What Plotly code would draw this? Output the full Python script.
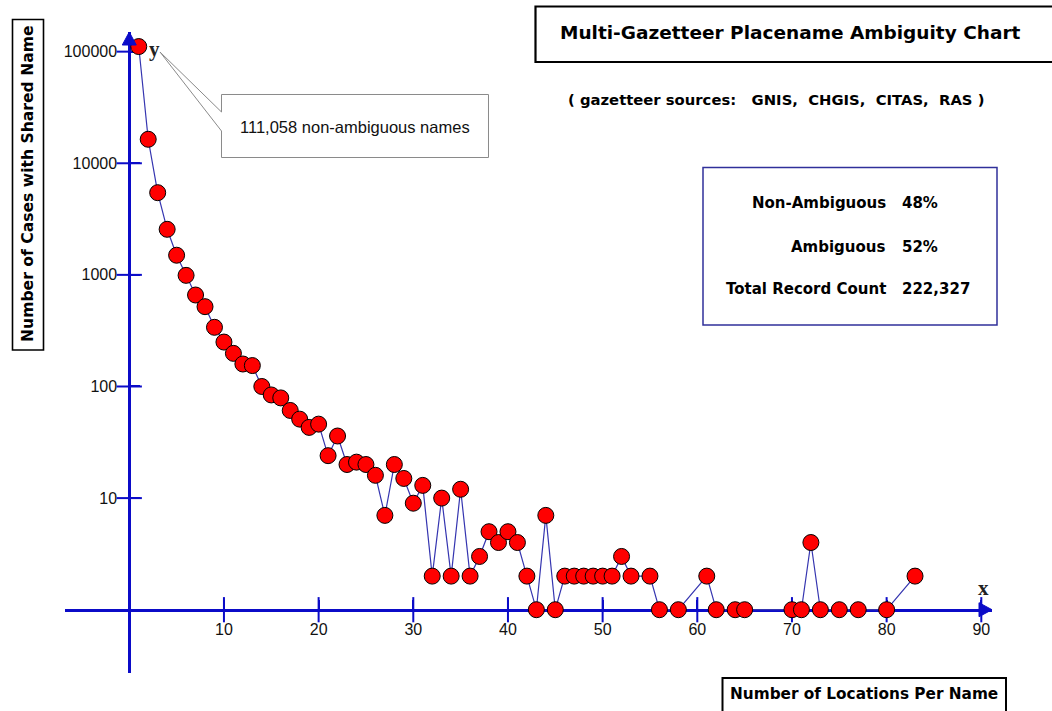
import plotly.graph_objects as go

# ---------------- data ----------------
locations_per_name = [1, 2, 3, 4, 5, 6, 7, 8, 9, 10,
                      11, 12, 13, 14, 15, 16, 17, 18, 19, 20,
                      21, 22, 23, 24, 25, 26, 27, 28, 29, 30,
                      31, 32, 33, 34, 35, 36, 37, 38, 39, 40,
                      41, 42, 43, 44, 45, 46, 47, 48, 49, 50,
                      51, 52, 53, 55, 56, 58, 61, 62, 64, 65,
                      70, 71, 72, 73, 75, 77, 80, 83]
cases_with_shared_name = [111058, 16400, 5450, 2560, 1500, 990, 660, 519, 339, 250,
                          198, 159, 154, 100, 84, 79, 61, 51, 43, 46,
                          24, 36, 20, 21, 20, 16, 7, 20, 15, 9,
                          13, 2, 10, 2, 12, 2, 3, 5, 4, 5,
                          4, 2, 1, 7, 1, 2, 2, 2, 2, 2,
                          2, 3, 2, 2, 1, 1, 2, 1, 1, 1,
                          1, 1, 4, 1, 1, 1, 1, 2]

x_ticks = [10, 20, 30, 40, 50, 60, 70, 80, 90]
x_tick_labels = ["10", "20", "30", "40", "50", "60", "70", "80", "90"]
y_ticks = [10, 100, 1000, 10000, 100000]
y_tick_labels = ["10", "100", "1000", "10000", "100000"]

title_text = "Multi-Gazetteer Placename Ambiguity Chart"
subtitle_text = "( gazetteer sources:\u00a0\u00a0 GNIS,\u00a0 CHGIS,\u00a0 CITAS,\u00a0 RAS )"
stat_labels = ["Non-Ambiguous", "Ambiguous", "Total Record Count"]
stat_values = ["48%", "52%", "222,327"]
callout_text = "111,058 non-ambiguous names"
y_title = "Number of Cases with Shared Name"
x_title = "Number of Locations Per Name"

# ---------------- layout geometry ----------------
FIG_W, FIG_H = 1052, 711
ML, MR, MT, MB = 65, 60, 32, 38
PW, PH = FIG_W - ML - MR, FIG_H - MT - MB
X_RANGE = [-6.79, 91.13]
Y_RANGE_LOG = [-0.567, 5.176]

AXIS_BLUE = "#0b0bc8"
LINE_BLUE = "#3535b0"


def px(xp):
    return (xp - ML) / PW


def py(yp):
    return (MT + PH - yp) / PH


y_axis_pos = (0 - X_RANGE[0]) / (X_RANGE[1] - X_RANGE[0])
x_axis_pos = (0 - Y_RANGE_LOG[0]) / (Y_RANGE_LOG[1] - Y_RANGE_LOG[0])

fig = go.Figure()

# crossing tick marks
fig.add_trace(go.Scatter(
    x=x_ticks, y=[1] * len(x_ticks), mode="markers", hoverinfo="skip",
    marker=dict(symbol="line-ns", size=18, line=dict(color=AXIS_BLUE, width=2)),
    showlegend=False, cliponaxis=False))
fig.add_trace(go.Scatter(
    x=[0] * len(y_ticks), y=y_ticks, mode="markers", hoverinfo="skip",
    marker=dict(symbol="line-ew", size=18, line=dict(color=AXIS_BLUE, width=2)),
    showlegend=False, cliponaxis=False))

# data
fig.add_trace(go.Scatter(
    x=locations_per_name, y=cases_with_shared_name, mode="lines+markers",
    line=dict(color=LINE_BLUE, width=1.2),
    marker=dict(color="#ff0000", size=16, line=dict(color="#000000", width=1)),
    showlegend=False, cliponaxis=False))

TICK_FONT = dict(family="Liberation Sans, Arial, sans-serif", size=16, color="#111111")
fig.update_layout(
    width=FIG_W, height=FIG_H,
    margin=dict(l=ML, r=MR, t=MT, b=MB),
    paper_bgcolor="white", plot_bgcolor="white",
    showlegend=False,
    xaxis=dict(
        range=X_RANGE, showgrid=False, zeroline=False,
        anchor="free", position=x_axis_pos,
        showline=True, linecolor=AXIS_BLUE, linewidth=3, layer="below traces",
        tickmode="array", tickvals=x_ticks, ticktext=x_tick_labels,
        ticks="inside", ticklen=9, tickwidth=2, tickcolor=AXIS_BLUE,
        ticklabelstandoff=4, tickfont=TICK_FONT,
    ),
    yaxis=dict(
        type="log", range=Y_RANGE_LOG, showgrid=False, zeroline=False,
        anchor="free", position=y_axis_pos,
        showline=True, linecolor=AXIS_BLUE, linewidth=3, layer="below traces",
        tickmode="array", tickvals=y_ticks, ticktext=y_tick_labels,
        ticks="inside", ticklen=9, tickwidth=2, tickcolor=AXIS_BLUE,
        ticklabelstandoff=8, tickfont=TICK_FONT,
    ),
)

shapes = []
# arrowheads
shapes.append(dict(type="path", xref="x", xsizemode="pixel", xanchor=0,
                   yref="paper", ysizemode="pixel", yanchor=1,
                   path="M -7,-13 L 0,0 L 7,-13 Z",
                   fillcolor=AXIS_BLUE, line=dict(color=AXIS_BLUE, width=1)))
shapes.append(dict(type="path", xref="paper", xsizemode="pixel", xanchor=1,
                   yref="paper", ysizemode="pixel", yanchor=x_axis_pos,
                   path="M -13,-7 L 0,0 L -13,7 Z",
                   fillcolor=AXIS_BLUE, line=dict(color=AXIS_BLUE, width=1)))

# title box
shapes.append(dict(type="rect", xref="paper", yref="paper",
                   x0=px(535.5), x1=px(1070), y0=py(6.5), y1=py(62),
                   line=dict(color="black", width=2.2)))
# stats box
shapes.append(dict(type="rect", xref="paper", yref="paper",
                   x0=px(703), x1=px(997), y0=py(167.5), y1=py(325),
                   line=dict(color="#30309a", width=1.5)))
# y-title box
shapes.append(dict(type="rect", xref="paper", yref="paper",
                   x0=px(12.5), x1=px(43.5), y0=py(19.5), y1=py(350),
                   line=dict(color="black", width=1.6)))
# x-title box
shapes.append(dict(type="rect", xref="paper", yref="paper",
                   x0=px(722.5), x1=px(1006), y0=py(678), y1=py(720),
                   line=dict(color="black", width=2)))
# callout balloon
pts = [(221.5, 94.5), (488.5, 94.5), (488.5, 157.5), (221.5, 157.5),
       (221.5, 131), (160, 52), (221.5, 112)]
path = "M " + " L ".join(f"{px(a):.5f},{py(b):.5f}" for a, b in pts) + " Z"
shapes.append(dict(type="path", xref="paper", yref="paper", path=path,
                   fillcolor="white", line=dict(color="#8a8a8a", width=1)))

fig.update_layout(shapes=shapes)

BOLD = "DejaVu Sans, Verdana, sans-serif"


def label(xp, yp, text, font, **kw):
    d = dict(x=px(xp), y=py(yp), xref="paper", yref="paper", showarrow=False,
             xanchor="center", yanchor="middle", text=text, font=font)
    d.update(kw)
    return d


ann = []
ann.append(label(790, 33, f"<b>{title_text}</b>", dict(family=BOLD, size=18.5, color="black")))
ann.append(label(776, 100, f"<b>{subtitle_text}</b>", dict(family=BOLD, size=14.8, color="black")))
for i, (lab, val) in enumerate(zip(stat_labels, stat_values)):
    yy = [203, 246.5, 288.5][i]
    ann.append(label(888, yy, f"<b>{lab}</b>", dict(family=BOLD, size=15, color="black"),
                     xanchor="right"))
    ann.append(label(900, yy, f"<b>{val}</b>", dict(family=BOLD, size=15, color="black"),
                     xanchor="left"))
ann.append(label(354.5, 127, callout_text,
                 dict(family="Liberation Sans, Arial, sans-serif", size=16.5, color="#111111")))
ann.append(label(28, 184, f"<b>{y_title}</b>", dict(family=BOLD, size=15.6, color="black"),
                 textangle=-90))
ann.append(label(864, 694, f"<b>{x_title}</b>", dict(family=BOLD, size=15.3, color="black")))
ann.append(label(154, 49, "<b>y</b>",
                 dict(family="Liberation Serif, Times New Roman, serif", size=21, color="#222222")))
ann.append(label(983, 588, "<b>x</b>",
                 dict(family="Liberation Serif, Times New Roman, serif", size=21, color="#222222")))
fig.update_layout(annotations=ann)

fig.write_html("out.html",
               config={"displayModeBar": False},
               post_script="document.body.style.margin='0px';document.body.style.overflow='hidden';")
